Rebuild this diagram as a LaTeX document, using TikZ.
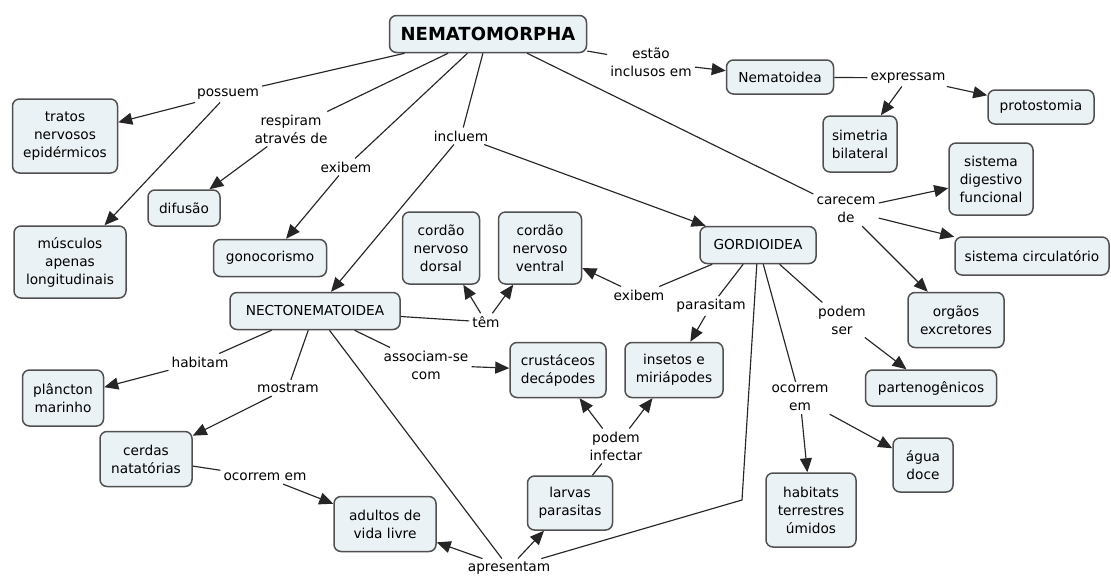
\documentclass[tikz,border=0pt]{standalone}
\usepackage{fontspec}
\setmainfont{DejaVu Sans}
\usepackage{xcolor}
\usetikzlibrary{arrows.meta}

\definecolor{boxfill}{RGB}{235,242,245}
\definecolor{boxline}{RGB}{80,80,80}

\begin{document}
\begin{tikzpicture}[
    concept/.style={draw=boxline, fill=boxfill, line width=1.5pt,
                    rounded corners=7pt, align=center, inner sep=2pt,
                    font=\fontsize{13.7}{18}\selectfont},
    lnk/.style={align=center, inner sep=3pt,
                font=\fontsize{13.7}{18}\selectfont},
    ln/.style={line width=1.15pt, draw=black!85},
    arr/.style={ln, -{Triangle[length=14pt, width=12pt]}},
    x=1pt, y=-1pt
  ]
  \useasboundingbox (0,0) rectangle (1111,576);

  % top: NEMATOMORPHA and Nematoidea
  \node[concept, minimum width=197, minimum height=37,
        font=\fontsize{18}{20}\selectfont\bfseries] (nemato) at (488,34) {NEMATOMORPHA};
  \node[concept, minimum width=107, minimum height=34] (nematoidea) at (780,77) {Nematoidea};
  \node[concept, minimum width=106, minimum height=34] (proto) at (1041,107) {protostomia};
  \node[concept, minimum width=74, minimum height=56] (simetria) at (860,144) {simetria\\bilateral};
  \node[lnk] (estao) at (651,62) {estão\\inclusos em};
  \node[lnk] (express) at (908,78) {expressam};
  \draw[ln] (nemato) -- (estao);
  \draw[arr] (estao) -- (nematoidea);
  \draw[ln] (nematoidea) -- (express);
  \draw[arr] (express) -- (proto);
  \draw[arr] (express) -- (simetria);

  % carecem de
  \node[concept, minimum width=84, minimum height=72] (digest) at (991,179) {sistema\\digestivo\\funcional};
  \node[concept, minimum width=154, minimum height=38] (circ) at (1032,256) {sistema circulatório};
  \node[concept, minimum width=96, minimum height=55] (excret) at (956,320) {orgãos\\excretores};
  \node[lnk] (carecem) at (846,210) {carecem\\de};
  \draw[ln] (nemato) -- (carecem);
  \draw[arr] (carecem) -- (digest);
  \draw[arr] (carecem) -- (circ);
  \draw[arr] (carecem) -- (excret);

  % left side
  \node[concept, minimum width=105, minimum height=74] (tratos) at (65,136) {tratos\\nervosos\\epidérmicos};
  \node[concept, minimum width=112, minimum height=72] (musc) at (70,262) {músculos\\apenas\\longitudinais};
  \node[concept, minimum width=72, minimum height=36] (difusao) at (184,208) {difusão};
  \node[concept, minimum width=113, minimum height=37] (gono) at (270,258) {gonocorismo};
  \node[lnk] (possuem) at (228,94) {possuem};
  \node[lnk] (respiram) at (291,129) {respiram\\através de};
  \node[lnk] (exibemA) at (346,167) {exibem};
  \node[lnk] (incluem) at (461,136) {incluem};
  \draw[ln] (nemato) -- (possuem);
  \draw[arr] (possuem) -- (tratos);
  \draw[arr] (possuem) -- (musc);
  \draw[ln] (nemato) -- (respiram);
  \draw[arr] (respiram) -- (difusao);
  \draw[ln] (nemato) -- (exibemA);
  \draw[arr] (exibemA) -- (gono);
  \draw[ln] (nemato) -- (incluem);

  % GORDIOIDEA
  \node[concept, minimum width=116, minimum height=37] (gordio) at (758,245) {GORDIOIDEA};
  \node[concept, minimum width=131, minimum height=36] (parteno) at (931,388) {partenogênicos};
  \node[concept, minimum width=60, minimum height=54] (agua) at (923,465) {água\\doce};
  \node[concept, minimum width=90, minimum height=74] (habitats) at (811,510) {habitats\\terrestres\\úmidos};
  \node[concept, minimum width=98, minimum height=55] (insetos) at (674,370) {insetos e\\miriápodes};
  \node[concept, minimum width=83, minimum height=72] (ventral) at (540,248) {cordão\\nervoso\\ventral};
  \node[lnk] (exibemB) at (639,295) {exibem};
  \node[lnk] (parasitam) at (711,306) {parasitam};
  \node[lnk] (podemser) at (842,320) {podem\\ser};
  \node[lnk] (ocorremB) at (800,398) {ocorrem\\em};
  \draw[arr] (incluem) -- (gordio);
  \draw[ln] (gordio) -- (exibemB);
  \draw[arr] (exibemB) -- (ventral);
  \draw[ln] (gordio) -- (parasitam);
  \draw[arr] (parasitam) -- (insetos);
  \draw[ln] (gordio) -- (podemser);
  \draw[arr] (podemser) -- (parteno);
  \draw[ln] (gordio) -- (ocorremB);
  \draw[arr] (ocorremB) -- (habitats);
  \draw[arr] (ocorremB) -- (agua);

  % NECTONEMATOIDEA
  \node[concept, minimum width=170, minimum height=37] (necto) at (315,311) {NECTONEMATOIDEA};
  \node[concept, minimum width=77, minimum height=72] (dorsal) at (441,248) {cordão\\nervoso\\dorsal};
  \node[concept, minimum width=96, minimum height=55] (crust) at (558,370) {crustáceos\\decápodes};
  \node[concept, minimum width=81, minimum height=56] (plancton) at (63,398) {plâncton\\marinho};
  \node[concept, minimum width=92, minimum height=55] (cerdas) at (146,459) {cerdas\\natatórias};
  \node[concept, minimum width=102, minimum height=55] (adultos) at (385,524) {adultos de\\vida livre};
  \node[concept, minimum width=85, minimum height=54] (larvas) at (570,503) {larvas\\parasitas};
  \node[lnk] (tem) at (486,322) {têm};
  \node[lnk] (associam) at (426,365) {associam-se\\com};
  \node[lnk] (habitam) at (200,362) {habitam};
  \node[lnk] (mostram) at (288,388) {mostram};
  \node[lnk] (ocorremA) at (265,477) {ocorrem em};
  \node[lnk] (infectar) at (616,446) {podem\\infectar};
  \node[lnk] (apresentam) at (509,568) {apresentam};
  \coordinate (bend) at (742,500);
  \draw[arr] (incluem) -- (necto);
  \draw[ln] (necto) -- (tem);
  \draw[arr] (tem) -- (dorsal);
  \draw[arr] (tem) -- (ventral);
  \draw[ln] (necto) -- (associam);
  \draw[arr] (associam) -- (crust);
  \draw[ln] (necto) -- (habitam);
  \draw[arr] (habitam) -- (plancton);
  \draw[ln] (necto) -- (mostram);
  \draw[arr] (mostram) -- (cerdas);
  \draw[ln] (cerdas) -- (ocorremA);
  \draw[arr] (ocorremA) -- (adultos);
  \draw[ln] (necto) -- (apresentam);
  \draw[ln] (gordio) -- (bend) -- (apresentam);
  \draw[arr] (apresentam) -- (adultos);
  \draw[arr] (apresentam) -- (larvas);
  \draw[ln] (larvas) -- (infectar);
  \draw[arr] (infectar) -- (crust);
  \draw[arr] (infectar) -- (insetos);
\end{tikzpicture}
\end{document}
